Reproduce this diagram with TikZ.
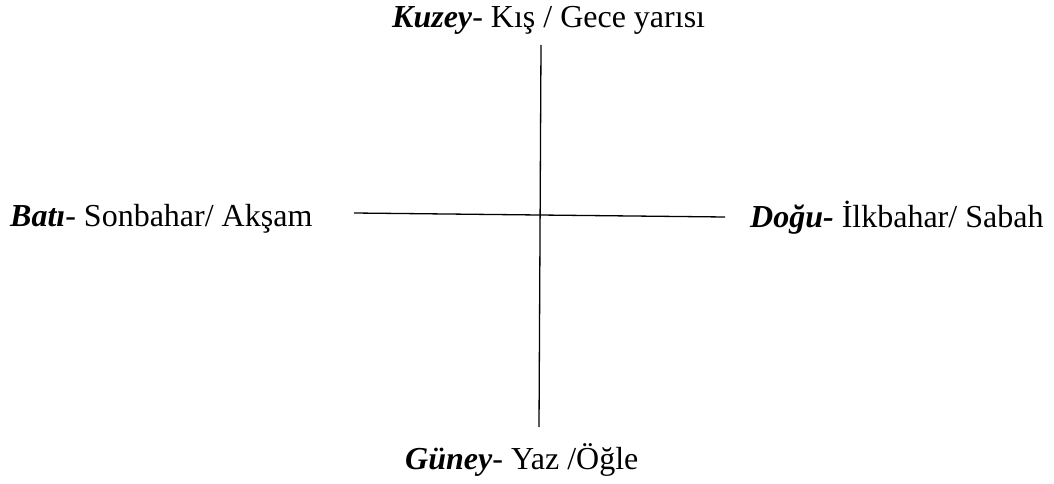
\documentclass[tikz,border=0pt]{standalone}
\usepackage{fontspec}
\setmainfont{Liberation Serif}
\begin{document}
\begin{tikzpicture}[x=1pt,y=-1pt,
  lbl/.style={anchor=base west,inner sep=0pt,font=\fontsize{32}{38}\selectfont},
  axis/.style={line width=1.3pt,black}]
\useasboundingbox (0,0) rectangle (1054,484);
\node[lbl] (n) at (392,28) {\textbf{\textit{Kuzey}}- Kış / Gece yarısı};
\node[lbl] (w) at (10,226) {\textbf{\textit{Batı}}- Sonbahar/ Akşam};
\node[lbl] (e) at (750,227) {\textbf{\textit{Doğu-}} İlkbahar/ Sabah};
\node[lbl] (s) at (405,469) {\textbf{\textit{Güney}}- Yaz /Öğle};
\coordinate (top) at (541,45);
\coordinate (bot) at (539,427);
\coordinate (left) at (354,213);
\coordinate (right) at (725,217);
\draw[axis] (top) -- (bot);
\draw[axis] (left) -- (right);
\end{tikzpicture}
\end{document}
